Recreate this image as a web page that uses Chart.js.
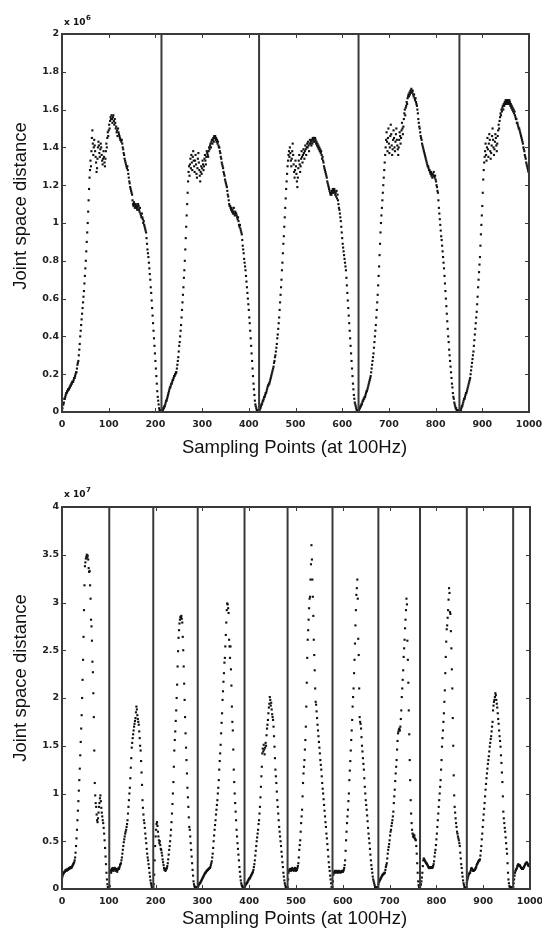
<!DOCTYPE html>
<html><head><meta charset="utf-8">
<script src="https://cdn.jsdelivr.net/npm/chart.js@4.4.1/dist/chart.umd.min.js"></script>
<style>
html,body{margin:0;padding:0;background:#fff;}
#wrap{position:relative;width:542px;height:928px;background:#fff;}
.c{position:absolute;left:0;width:542px;height:464px;}
</style></head><body>
<div id="wrap">
<div class="c" style="top:0"><canvas id="topChart" width="542" height="464"></canvas></div>
<div class="c" style="top:464px"><canvas id="botChart" width="542" height="464"></canvas></div>
</div>
<script>
// ---------- DATA (values in units shown on the axes: x10^6 top, x10^7 bottom) ----------
const xTicks = [0,100,200,300,400,500,600,700,800,900,1000];
const topYTicks = [0,0.2,0.4,0.6,0.8,1,1.2,1.4,1.6,1.8,2];
const topYLabels = ['0','0.2','0.4','0.6','0.8','1','1.2','1.4','1.6','1.8','2'];
const botYTicks = [0,0.5,1,1.5,2,2.5,3,3.5,4];
const botYLabels = ['0','0.5','1','1.5','2','2.5','3','3.5','4'];

// top panel: cycle start sample index and cycle boundaries
const topStarts = [0, 213, 422, 635, 851];
const topBounds = [213, 422, 635, 851];
const topCycle1 = [
0.01,0.02,0.04,0.04,0.05,0.07,0.07,0.08,0.09,0.10,
0.10,0.11,0.11,0.12,0.12,0.12,0.13,0.13,0.14,0.14,
0.15,0.15,0.16,0.16,0.16,0.17,0.18,0.18,0.19,0.20,
0.21,0.21,0.23,0.25,0.26,0.27,0.30,0.33,0.36,0.40,
0.43,0.46,0.49,0.52,0.55,0.58,0.61,0.64,0.68,0.72,
0.76,0.80,0.85,0.90,0.95,1.00,1.06,1.12,1.18,1.24,
1.28,1.33,1.30,1.38,1.45,1.49,1.42,1.36,1.40,1.44,
1.41,1.38,1.35,1.32,1.27,1.29,1.34,1.40,1.43,1.41,
1.37,1.35,1.39,1.42,1.40,1.36,1.33,1.31,1.34,1.38,
1.35,1.32,1.30,1.34,1.38,1.42,1.40,1.45,1.48,1.46,
1.49,1.52,1.50,1.54,1.56,1.55,1.57,1.55,1.53,1.56,
1.57,1.54,1.52,1.55,1.53,1.50,1.51,1.48,1.49,1.46,
1.50,1.48,1.47,1.46,1.45,1.44,1.44,1.43,1.44,1.42,
1.40,1.39,1.37,1.36,1.34,1.33,1.32,1.31,1.30,1.29,
1.30,1.28,1.26,1.24,1.22,1.21,1.19,1.18,1.17,1.16,
1.15,1.12,1.10,1.09,1.11,1.10,1.08,1.09,1.10,1.08,
1.09,1.07,1.08,1.10,1.09,1.07,1.06,1.08,1.05,1.04,
1.03,1.05,1.03,1.02,1.00,1.01,0.99,0.98,0.97,0.96,
0.95,0.92,0.89,0.86,0.84,0.82,0.79,0.76,0.73,0.70,
0.66,0.63,0.59,0.55,0.51,0.47,0.43,0.39,0.35,0.31,
0.27,0.23,0.19,0.15,0.11,0.08,0.06,0.04,0.02,0.01,0.01,0.00,0.01];
const topCycle2 = [
0.01,0.00,0.01,0.01,0.02,0.02,0.03,0.03,0.04,0.05,
0.06,0.06,0.07,0.08,0.09,0.10,0.11,0.12,0.13,0.13,
0.14,0.15,0.15,0.16,0.17,0.17,0.18,0.19,0.19,0.20,
0.20,0.21,0.21,0.23,0.25,0.27,0.29,0.32,0.35,0.37,
0.40,0.43,0.46,0.50,0.54,0.58,0.62,0.66,0.71,0.75,
0.80,0.86,0.92,0.98,1.04,1.10,1.16,1.22,1.27,1.30,
1.25,1.31,1.34,1.29,1.36,1.32,1.28,1.35,1.38,1.33,
1.30,1.27,1.33,1.36,1.31,1.26,1.24,1.29,1.34,1.37,
1.32,1.28,1.25,1.22,1.27,1.30,1.26,1.29,1.33,1.31,
1.28,1.30,1.34,1.36,1.33,1.31,1.35,1.38,1.37,1.36,
1.35,1.38,1.40,1.39,1.41,1.42,1.40,1.43,1.44,1.42,
1.44,1.45,1.43,1.46,1.45,1.46,1.44,1.45,1.43,1.44,
1.42,1.43,1.41,1.40,1.40,1.38,1.37,1.35,1.34,1.32,
1.31,1.30,1.29,1.27,1.26,1.25,1.23,1.22,1.21,1.20,
1.19,1.17,1.15,1.14,1.12,1.10,1.09,1.09,1.08,1.07,
1.08,1.06,1.07,1.05,1.06,1.08,1.05,1.04,1.06,1.05,
1.05,1.04,1.03,1.02,1.03,1.01,0.99,0.98,0.99,0.97,
0.96,0.95,0.94,0.91,0.88,0.86,0.84,0.81,0.79,0.77,
0.75,0.72,0.69,0.66,0.63,0.60,0.57,0.54,0.50,0.47,
0.43,0.39,0.35,0.31,0.27,0.23,0.19,0.15,0.12,0.09,
0.06,0.04,0.03,0.02,0.01,0.01,0.00,0.01,0.00];
const topCycle3 = [
0.01,0.01,0.02,0.02,0.03,0.04,0.04,0.05,0.06,0.06,
0.07,0.08,0.08,0.09,0.10,0.10,0.11,0.12,0.13,0.14,
0.14,0.15,0.15,0.16,0.17,0.18,0.19,0.20,0.21,0.22,
0.23,0.24,0.26,0.27,0.29,0.30,0.32,0.34,0.36,0.39,
0.41,0.44,0.47,0.50,0.54,0.58,0.62,0.66,0.70,0.75,
0.79,0.84,0.89,0.93,0.98,1.03,1.08,1.13,1.18,1.22,
1.26,1.30,1.33,1.36,1.38,1.35,1.40,1.37,1.33,1.30,
1.34,1.38,1.42,1.36,1.31,1.27,1.24,1.28,1.33,1.30,
1.26,1.22,1.19,1.24,1.29,1.33,1.36,1.31,1.27,1.30,
1.34,1.38,1.35,1.32,1.36,1.39,1.37,1.34,1.38,1.41,
1.39,1.36,1.40,1.42,1.40,1.43,1.41,1.38,1.42,1.44,
1.42,1.43,1.41,1.44,1.42,1.45,1.43,1.44,1.45,1.43,
1.45,1.44,1.42,1.43,1.41,1.42,1.40,1.41,1.39,1.40,
1.38,1.39,1.37,1.38,1.36,1.34,1.35,1.33,1.32,1.30,
1.29,1.28,1.27,1.26,1.25,1.24,1.22,1.21,1.20,1.19,
1.18,1.17,1.16,1.15,1.16,1.15,1.17,1.16,1.18,1.17,
1.16,1.18,1.17,1.15,1.16,1.14,1.17,1.13,1.15,1.12,
1.10,1.08,1.07,1.05,1.03,1.01,0.98,0.95,0.92,0.89,
0.87,0.85,0.83,0.81,0.79,0.77,0.75,0.71,0.67,0.63,
0.59,0.55,0.51,0.47,0.43,0.39,0.35,0.31,0.27,0.23,
0.19,0.15,0.12,0.09,0.07,0.05,0.04,0.03,0.02,0.01,0.01,0.00,0.01];
const topCycle4 = [
0.01,0.01,0.02,0.02,0.03,0.03,0.04,0.04,0.05,0.06,
0.06,0.07,0.07,0.08,0.08,0.09,0.10,0.11,0.11,0.12,
0.13,0.14,0.15,0.16,0.17,0.18,0.19,0.21,0.23,0.25,
0.27,0.29,0.31,0.34,0.37,0.40,0.43,0.46,0.50,0.54,
0.58,0.62,0.67,0.72,0.77,0.83,0.89,0.95,1.00,1.04,
1.08,1.12,1.16,1.20,1.24,1.28,1.32,1.36,1.40,1.44,
1.48,1.43,1.38,1.45,1.50,1.42,1.37,1.40,1.46,1.52,
1.47,1.41,1.36,1.39,1.44,1.49,1.45,1.40,1.38,1.43,
1.47,1.50,1.44,1.41,1.39,1.36,1.40,1.44,1.48,1.46,
1.42,1.45,1.49,1.53,1.50,1.47,1.51,1.55,1.58,1.60,
1.57,1.61,1.62,1.64,1.63,1.66,1.67,1.68,1.67,1.69,
1.68,1.70,1.69,1.71,1.70,1.69,1.70,1.68,1.67,1.68,
1.66,1.65,1.66,1.64,1.63,1.62,1.60,1.58,1.55,1.53,
1.51,1.50,1.48,1.46,1.45,1.44,1.42,1.41,1.40,1.39,
1.38,1.37,1.36,1.35,1.34,1.33,1.32,1.31,1.30,1.30,
1.29,1.28,1.28,1.27,1.26,1.27,1.25,1.26,1.24,1.26,
1.25,1.27,1.25,1.24,1.25,1.23,1.22,1.20,1.19,1.17,
1.16,1.12,1.08,1.05,1.02,0.99,0.96,0.93,0.91,0.88,
0.85,0.82,0.79,0.76,0.72,0.68,0.64,0.60,0.56,0.52,
0.48,0.44,0.40,0.37,0.33,0.30,0.27,0.24,0.21,0.18,
0.15,0.13,0.10,0.08,0.07,0.05,0.04,0.03,0.02,0.02,0.01,0.01,0.00,0.01,0.00,0.01];
const topCycle5 = [
0.01,0.00,0.01,0.01,0.02,0.03,0.03,0.04,0.05,0.06,
0.07,0.07,0.08,0.09,0.10,0.10,0.11,0.12,0.13,0.14,
0.15,0.16,0.17,0.18,0.20,0.22,0.24,0.26,0.28,0.30,
0.32,0.35,0.38,0.41,0.44,0.47,0.50,0.53,0.57,0.61,
0.66,0.70,0.74,0.78,0.82,0.88,0.94,0.99,1.04,1.09,
1.16,1.23,1.28,1.32,1.35,1.38,1.42,1.36,1.33,1.40,
1.45,1.39,1.35,1.42,1.47,1.44,1.38,1.34,1.37,1.41,
1.46,1.50,1.44,1.40,1.36,1.39,1.43,1.47,1.45,1.41,
1.38,1.42,1.46,1.49,1.52,1.50,1.54,1.56,1.58,1.57,
1.60,1.59,1.61,1.62,1.60,1.63,1.62,1.64,1.63,1.65,
1.64,1.65,1.63,1.64,1.65,1.64,1.63,1.65,1.64,1.62,
1.63,1.61,1.62,1.60,1.61,1.59,1.60,1.58,1.59,1.57,
1.56,1.55,1.55,1.53,1.53,1.52,1.51,1.50,1.50,1.49,
1.48,1.47,1.46,1.45,1.44,1.43,1.42,1.40,1.39,1.38,
1.36,1.35,1.34,1.32,1.31,1.30,1.29,1.28,1.27,1.27];

// bottom panel
const botStarts = [0, 102, 195, 290, 390, 482, 578, 676, 765, 865, 964];
const botBounds = [101, 195, 290, 390, 482, 578, 676, 765, 865, 964];
const botCycle1 = [
0.10,0.13,0.15,0.16,0.17,0.18,0.18,0.19,0.20,0.20,
0.19,0.20,0.21,0.20,0.21,0.22,0.21,0.22,0.23,0.22,
0.22,0.23,0.24,0.25,0.26,0.27,0.28,0.30,0.33,0.38,
0.45,0.53,0.62,0.72,0.82,0.92,1.03,1.14,1.26,1.40,
1.54,1.68,1.82,2.00,2.19,2.40,2.64,2.92,3.18,3.38,
3.42,3.46,3.48,3.50,3.47,3.49,3.45,3.36,3.32,3.33,
3.18,3.04,2.82,2.75,2.60,2.38,2.27,2.05,1.80,1.45,
1.11,0.98,0.90,0.86,0.78,0.72,0.70,0.74,0.80,0.86,
0.90,0.95,0.98,0.92,0.85,0.80,0.76,0.72,0.69,0.64,
0.58,0.51,0.43,0.34,0.26,0.17,0.10,0.05,0.02,0.01,0.02];
const botCycle2 = [
0.03,0.20,0.18,0.17,0.19,0.21,0.22,0.20,0.19,0.21,
0.22,0.22,0.20,0.19,0.21,0.20,0.18,0.20,0.21,0.22,
0.21,0.23,0.25,0.26,0.27,0.30,0.33,0.37,0.41,0.45,
0.49,0.52,0.55,0.58,0.60,0.62,0.65,0.68,0.72,0.79,
0.86,0.93,1.00,1.06,1.16,1.27,1.37,1.48,1.53,1.58,
1.62,1.66,1.70,1.73,1.76,1.79,1.85,1.91,1.88,1.82,
1.78,1.75,1.72,1.65,1.58,1.50,1.45,1.34,1.22,1.09,
0.93,0.85,0.78,0.72,0.69,0.64,0.58,0.53,0.48,0.42,
0.37,0.33,0.30,0.26,0.22,0.17,0.13,0.09,0.06,0.04,0.02,0.01,0.02];
const botCycle3 = [
0.02,0.05,0.15,0.30,0.45,0.55,0.62,0.68,0.70,0.66,
0.60,0.55,0.51,0.48,0.50,0.46,0.42,0.41,0.38,0.35,
0.31,0.28,0.25,0.22,0.20,0.21,0.19,0.20,0.21,0.22,
0.24,0.27,0.31,0.36,0.41,0.45,0.50,0.56,0.62,0.70,
0.79,0.89,1.00,1.12,1.28,1.45,1.56,1.65,1.76,1.87,
2.00,2.14,2.33,2.49,2.63,2.71,2.78,2.82,2.85,2.84,
2.86,2.83,2.79,2.64,2.50,2.33,2.15,1.98,1.80,1.63,
1.48,1.35,1.21,1.06,0.96,0.86,0.75,0.65,0.62,0.55,
0.48,0.41,0.34,0.27,0.20,0.14,0.08,0.05,0.03,0.02,0.01,0.02,0.01,0.02,0.01];
const botCycle4 = [
0.02,0.03,0.04,0.05,0.06,0.06,0.07,0.08,0.09,0.10,
0.11,0.12,0.13,0.14,0.15,0.16,0.17,0.17,0.18,0.19,
0.19,0.20,0.20,0.21,0.21,0.22,0.22,0.23,0.25,0.27,
0.29,0.33,0.37,0.43,0.50,0.56,0.62,0.67,0.72,0.78,
0.83,0.88,0.93,1.00,1.06,1.14,1.25,1.34,1.42,1.51,
1.63,1.74,1.84,1.98,2.07,2.17,2.26,2.37,2.42,2.54,
2.66,2.79,2.92,2.99,2.98,2.94,2.89,2.61,2.54,2.42,
2.54,2.30,2.13,1.91,1.75,1.66,1.46,1.25,1.12,1.00,
0.90,0.81,0.72,0.62,0.55,0.48,0.42,0.36,0.30,0.23,
0.18,0.13,0.09,0.06,0.04,0.03,0.02,0.01,0.02,0.01];
const botCycle5 = [
0.02,0.03,0.04,0.05,0.06,0.06,0.07,0.08,0.09,0.10,
0.11,0.11,0.12,0.13,0.14,0.15,0.16,0.17,0.18,0.20,
0.23,0.26,0.30,0.35,0.40,0.45,0.50,0.54,0.58,0.62,
0.68,0.72,0.79,0.86,0.96,1.07,1.18,1.28,1.42,1.47,
1.44,1.51,1.46,1.41,1.48,1.53,1.50,1.61,1.68,1.72,
1.77,1.84,1.90,1.94,2.01,1.98,1.92,1.95,1.88,1.83,
1.80,1.77,1.70,1.60,1.49,1.37,1.25,1.18,1.11,1.02,
0.93,0.86,0.79,0.72,0.65,0.60,0.55,0.50,0.45,0.39,
0.34,0.28,0.23,0.17,0.13,0.09,0.06,0.04,0.02,0.01,0.02,0.01];
const botCycle6 = [
0.02,0.10,0.17,0.19,0.20,0.21,0.20,0.19,0.21,0.20,
0.22,0.21,0.20,0.19,0.20,0.21,0.22,0.20,0.19,0.21,
0.20,0.22,0.24,0.27,0.33,0.41,0.46,0.51,0.60,0.69,
0.76,0.83,0.97,1.11,1.21,1.28,1.35,1.46,1.56,1.70,
1.91,2.16,2.42,2.61,2.71,2.82,2.94,3.04,3.06,3.24,
3.40,3.60,3.45,3.24,3.06,2.86,2.61,2.45,2.29,2.10,
1.96,1.93,1.86,1.79,1.72,1.66,1.60,1.54,1.48,1.42,
1.35,1.30,1.25,1.18,1.11,1.05,1.00,0.94,0.88,0.82,
0.76,0.70,0.65,0.58,0.53,0.47,0.41,0.34,0.28,0.23,
0.19,0.14,0.10,0.06,0.02,0.01];
const botCycle7 = [
0.02,0.08,0.15,0.17,0.18,0.19,0.18,0.17,0.18,0.19,
0.18,0.18,0.17,0.18,0.19,0.18,0.18,0.17,0.18,0.18,
0.19,0.18,0.18,0.19,0.20,0.22,0.25,0.30,0.40,0.51,
0.60,0.69,0.76,0.83,0.92,1.00,1.14,1.24,1.34,1.45,
1.56,1.66,1.77,1.91,2.01,2.10,2.26,2.40,2.57,2.76,
2.92,3.08,3.15,3.24,3.04,2.62,2.45,2.10,1.80,1.75,
1.73,1.68,1.59,1.50,1.44,1.37,1.31,1.25,1.16,1.07,
1.00,0.93,0.88,0.83,0.77,0.71,0.64,0.58,0.53,0.48,
0.42,0.36,0.30,0.25,0.21,0.17,0.13,0.10,0.08,0.06,
0.04,0.02,0.01,0.02,0.01,0.02,0.01,0.02];
const botCycle8 = [
0.05,0.07,0.08,0.09,0.10,0.11,0.12,0.13,0.14,0.15,
0.15,0.16,0.16,0.17,0.17,0.20,0.23,0.25,0.27,0.32,
0.37,0.41,0.44,0.47,0.51,0.56,0.60,0.62,0.66,0.69,
0.72,0.76,0.81,0.90,0.97,1.04,1.13,1.21,1.28,1.35,
1.46,1.55,1.63,1.65,1.67,1.68,1.66,1.70,1.78,1.87,
2.01,2.10,2.19,2.29,2.43,2.52,2.61,2.73,2.82,2.92,
3.04,2.98,2.60,2.40,2.16,1.87,1.62,1.35,1.14,0.93,
0.79,0.69,0.62,0.58,0.55,0.57,0.54,0.56,0.53,0.52,
0.51,0.45,0.37,0.27,0.17,0.08,0.04,0.02,0.01];
const botCycle9 = [
0.02,0.04,0.05,0.08,0.12,0.17,0.24,0.30,0.32,0.31,
0.30,0.29,0.28,0.27,0.27,0.26,0.25,0.24,0.23,0.22,
0.22,0.23,0.22,0.23,0.22,0.23,0.22,0.23,0.24,0.26,
0.29,0.34,0.38,0.41,0.46,0.52,0.58,0.65,0.72,0.79,
0.86,0.93,1.00,1.07,1.14,1.25,1.35,1.49,1.58,1.66,
1.75,1.84,1.96,2.08,2.26,2.43,2.59,2.72,2.76,2.84,
2.92,3.03,3.15,3.10,2.90,2.88,2.70,2.52,2.30,2.10,
1.79,1.50,1.19,0.98,0.86,0.80,0.74,0.69,0.65,0.60,
0.58,0.55,0.53,0.51,0.48,0.45,0.38,0.32,0.26,0.22,
0.17,0.13,0.09,0.06,0.04,0.02,0.01,0.02,0.01,0.02];
const botCycle10 = [
0.06,0.09,0.11,0.13,0.15,0.16,0.17,0.17,0.19,0.21,
0.22,0.21,0.20,0.19,0.20,0.19,0.20,0.20,0.21,0.22,
0.23,0.25,0.26,0.27,0.28,0.29,0.30,0.30,0.31,0.35,
0.40,0.45,0.52,0.58,0.65,0.72,0.78,0.84,0.90,0.97,
1.04,1.10,1.16,1.21,1.26,1.31,1.35,1.39,1.44,1.49,
1.53,1.57,1.60,1.65,1.70,1.75,1.87,1.92,1.96,1.98,
2.01,2.05,2.03,1.98,1.94,1.90,1.84,1.78,1.73,1.66,
1.60,1.55,1.49,1.40,1.32,1.22,1.12,0.97,0.81,0.74,
0.69,0.64,0.60,0.54,0.48,0.42,0.37,0.27,0.17,0.10,
0.06,0.03,0.02,0.01,0.02,0.01,0.02,0.01,0.02];
const botCycle11 = [
0.02,0.06,0.10,0.14,0.17,0.19,0.20,0.21,0.22,0.24,
0.25,0.26,0.25,0.24,0.25,0.24,0.23,0.22,0.22,0.21,
0.22,0.21,0.22,0.23,0.24,0.25,0.26,0.27,0.27,0.28,
0.27,0.26,0.25,0.24,0.25,0.26,0.27];

const topCycles = [topCycle1, topCycle2, topCycle3, topCycle4, topCycle5];
const botCycles = [botCycle1, botCycle2, botCycle3, botCycle4, botCycle5, botCycle6, botCycle7, botCycle8, botCycle9, botCycle10, botCycle11];

// ---------- BUILD ----------
function samples(cycles, starts) {
  const pts = [];
  cycles.forEach((c, k) => c.forEach((v, i) => pts.push({x: starts[k] + i, y: v})));
  return pts;
}

const INK = '#111';
const FRAME = '#3a3a3a';

const framePlugin = {
  id: 'frame',
  afterDatasetsDraw(chart, args, o) {
    const {ctx, chartArea: a} = chart;
    const xs = chart.scales.x, ys = chart.scales.y;
    ctx.save();
    ctx.strokeStyle = FRAME;
    ctx.lineWidth = 1;
    ctx.beginPath();
    xs.ticks.forEach(t => {
      const p = Math.round(xs.getPixelForValue(t.value)) + 0.5;
      ctx.moveTo(p, a.bottom); ctx.lineTo(p, a.bottom - 4);
      ctx.moveTo(p, a.top); ctx.lineTo(p, a.top + 4);
    });
    ys.ticks.forEach(t => {
      const p = Math.round(ys.getPixelForValue(t.value)) + 0.5;
      ctx.moveTo(a.left, p); ctx.lineTo(a.left + 4, p);
      ctx.moveTo(a.right, p); ctx.lineTo(a.right - 4, p);
    });
    ctx.stroke();
    ctx.lineWidth = 2;
    ctx.strokeRect(a.left, a.top, a.right - a.left, a.bottom - a.top);
    // exponent label
    ctx.fillStyle = INK;
    ctx.textBaseline = 'alphabetic';
    ctx.textAlign = 'left';
    ctx.font = "bold 9px 'DejaVu Sans'";
    ctx.fillText('x 10', a.left + 2, a.top - o.expDrop);
    ctx.font = "bold 7px 'DejaVu Sans'";
    ctx.fillText(o.exp, a.left + 24, a.top - o.expDrop - 5);
    // axis titles
    ctx.font = "18.5px 'Liberation Sans'";
    ctx.textAlign = 'center';
    ctx.fillText('Sampling Points (at 100Hz)', 294.5, o.xTitleBase);
    ctx.save();
    ctx.translate(26, o.yTitleCenter);
    ctx.rotate(-Math.PI / 2);
    ctx.fillText('Joint space distance', 0, 0);
    ctx.restore();
    ctx.restore();
  }
};

function makeChart(id, cycles, starts, bounds, yTicks, yLabels, yMax, pad, xAxisH, plug) {
  const datasets = [{
    type: 'scatter',
    data: samples(cycles, starts),
    pointStyle: 'rect',
    pointRadius: 1.5,
    pointBackgroundColor: INK,
    pointBorderWidth: 0,
    showLine: false,
    order: 2
  }];
  bounds.forEach(b => datasets.push({
    type: 'line',
    data: [{x: b, y: 0}, {x: b, y: yMax}],
    borderColor: FRAME,
    borderWidth: 2,
    pointRadius: 0,
    order: 1
  }));
  return new Chart(document.getElementById(id), {
    type: 'scatter',
    data: {datasets},
    plugins: [framePlugin],
    options: {
      responsive: false,
      animation: false,
      devicePixelRatio: 1,
      layout: {padding: pad},
      plugins: {legend: {display: false}, tooltip: {enabled: false}, frame: plug},
      scales: {
        x: {
          type: 'linear', min: 0, max: 1000,
          afterBuildTicks: s => { s.ticks = xTicks.map(v => ({value: v})); },
          afterFit: s => { s.height = xAxisH; s.paddingLeft = 0; s.paddingRight = 0; },
          ticks: {autoSkip: false, maxRotation: 0, padding: 7, color: '#222',
                  font: {family: 'DejaVu Sans', size: 9.5, weight: 'bold'},
                  callback: (v, i) => String(xTicks[i])},
          grid: {display: false, drawTicks: false},
          border: {display: false}
        },
        y: {
          type: 'linear', min: 0, max: yMax,
          afterBuildTicks: s => { s.ticks = yTicks.map(v => ({value: v})); },
          afterFit: s => { s.width = 62; s.paddingTop = 0; s.paddingBottom = 0; },
          ticks: {autoSkip: false, padding: 3, color: '#222',
                  font: {family: 'DejaVu Sans', size: 9.5, weight: 'bold'},
                  callback: (v, i) => yLabels[i]},
          grid: {display: false, drawTicks: false},
          border: {display: false}
        }
      }
    }
  });
}

makeChart('topChart', topCycles, topStarts, topBounds, topYTicks, topYLabels, 2,
  {top: 34, right: 13, left: 0, bottom: 0}, 52,
  {exp: '6', expDrop: 9, xTitleBase: 453, yTitleCenter: 206});
makeChart('botChart', botCycles, botStarts, botBounds, botYTicks, botYLabels, 4,
  {top: 43, right: 12, left: 0, bottom: 0}, 39,
  {exp: '7', expDrop: 10, xTitleBase: 460, yTitleCenter: 214});
</script>
</body></html>
